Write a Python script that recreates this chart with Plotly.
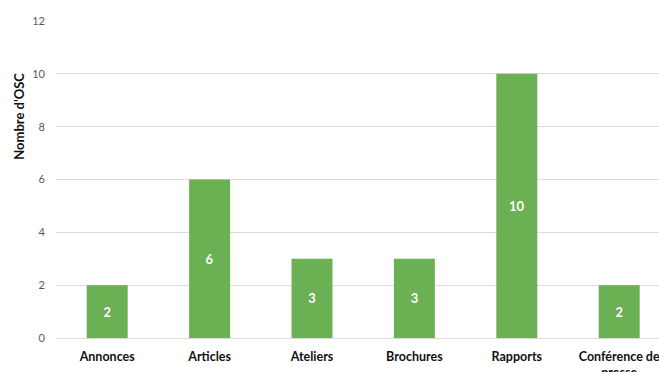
import plotly.graph_objects as go

categories = ["Annonces", "Articles", "Ateliers", "Brochures", "Rapports", "Conférence de<br>presse"]
values = [2, 6, 3, 3, 10, 2]
y_ticks = [0, 2, 4, 6, 8, 10, 12]

BAR_COLOR = "#6BB052"
FONT = "Lato, Open Sans, sans-serif"

fig = go.Figure(
    go.Bar(
        x=categories,
        y=values,
        marker=dict(color=BAR_COLOR, line=dict(width=0)),
        text=[str(v) for v in values],
        textposition="inside",
        insidetextanchor="middle",
        textfont=dict(color="white", size=13, family=FONT, weight="bold"),
        width=0.4,
    )
)

# plot area: left edge ~56 px, right edge at window edge; last category runs off the page
plot_w = 659 - 56
step = 102.4
fig.update_xaxes(
    range=[-0.5, -0.5 + plot_w / step],
    showgrid=False,
    showline=False,
    zeroline=False,
    ticks="",
    tickfont=dict(family=FONT, size=12.5, color="#111111", weight="bold"),
    ticklabelstandoff=9,
    automargin=False,
)
fig.update_yaxes(
    range=[0, 12],
    tickvals=y_ticks,
    showgrid=True,
    gridcolor="#DCDCDC",
    gridwidth=1,
    zeroline=True,
    zerolinecolor="#DCDCDC",
    zerolinewidth=1,
    showline=False,
    ticks="",
    tickfont=dict(family=FONT, size=11, color="#595959"),
    ticklabelstandoff=10,
    automargin=False,
)

fig.add_annotation(
    text="<b>Nombre d'OSC</b>",
    xref="paper", yref="paper",
    x=-0.062, y=0.70,
    textangle=-90,
    showarrow=False,
    font=dict(family=FONT, size=13, color="#111111"),
    xanchor="center", yanchor="middle",
)

fig.update_layout(
    width=659,
    height=372,
    margin=dict(l=56, r=0, t=21, b=34),
    paper_bgcolor="white",
    plot_bgcolor="white",
    showlegend=False,
    bargap=0.6,
)

fig.write_html("out.html")
